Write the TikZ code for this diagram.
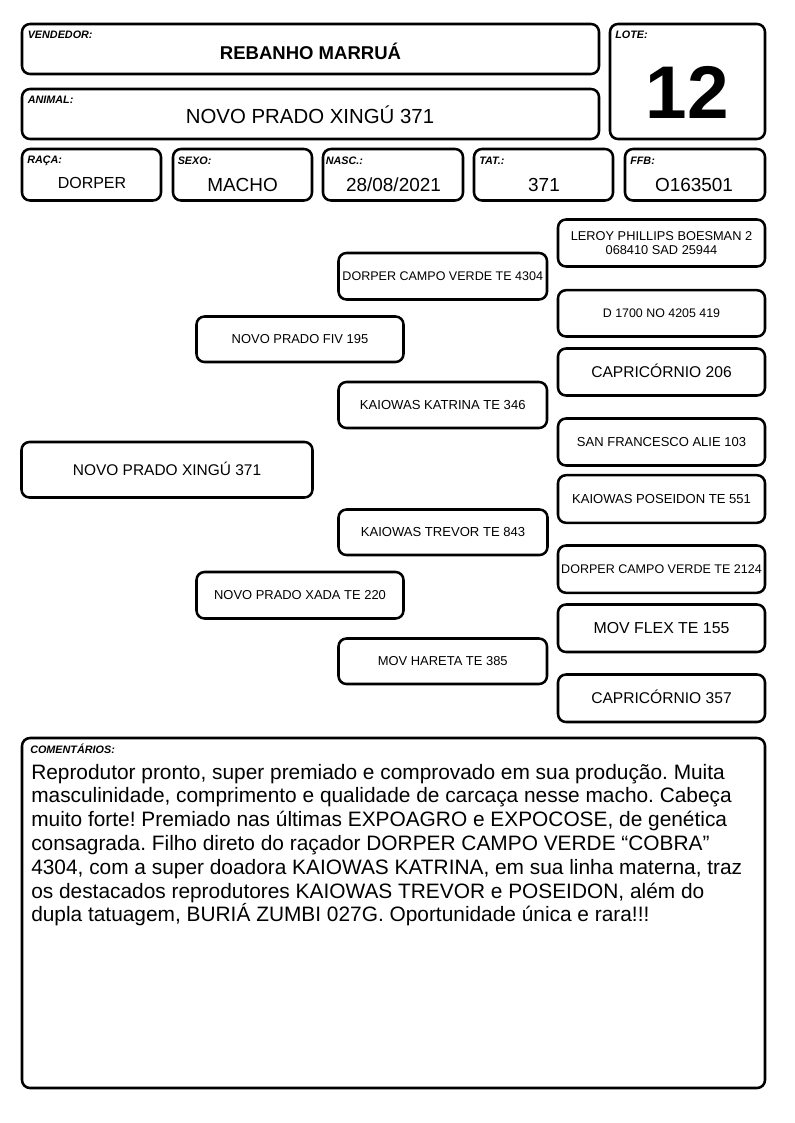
\documentclass[tikz,border=0pt]{standalone}
\usepackage{fontspec}
\setmainfont{Liberation Sans}
\frenchspacing
\tikzset{
    box/.style={draw,line width=1.9pt,rounded corners=6pt,inner sep=0pt},
    lbl/.style={anchor=base west,inner sep=0pt,font=\fontsize{8.1pt}{9pt}\selectfont\bfseries\itshape},
    val/.style={anchor=base,inner sep=0pt},
}
\begin{document}
\begin{tikzpicture}[x=0.75pt,y=-0.75pt]
    \useasboundingbox (0,0) rectangle (794,1123);
    \fill[white] (0,0) rectangle (794,1123);
    %% header boxes
    \foreach \xa/\ya/\xb/\yb/\name in {22/24/599/74/vend,22/89/599/139/anim,610/24/765/139/lote,
        22/149/161/200.5/raca,173/149/312/200.5/sexo,323/149/463/200.5/nasc,
        474/149/613/200.5/tat,625/149/765/200.5/ffb,22/738/765/1088/coment}
        \node[box,minimum width=(\xb-\xa)*0.75pt,minimum height=(\yb-\ya)*0.75pt]
            (\name) at ({(\xa+\xb)/2},{(\ya+\yb)/2}) {};
    %% labels
    \node[lbl] (vendl) at (27.5,39) {VENDEDOR:};
    \node[lbl] (animl) at (27.5,103.5) {ANIMAL:};
    \node[lbl] (lotel) at (615,39) {LOTE:};
    \node[lbl] (racal) at (27,164) {RAÇA:};
    \node[lbl] (sexol) at (177.5,165) {SEXO:};
    \node[lbl] (nascl) at (325.5,165) {NASC.:};
    \node[lbl] (tatl) at (479,165) {TAT.:};
    \node[lbl] (ffbl) at (630,165) {FFB:};
    \node[lbl] (comentl) at (30,753) {COMENTÁRIOS:};
    %% values
    \node[val,font=\fontsize{13.9pt}{16pt}\selectfont\bfseries] (vendv) at (310.5,60) {REBANHO MARRUÁ};
    \node[val,font=\fontsize{15.3pt}{17pt}\selectfont] (animv) at (310,123.3) {NOVO PRADO XINGÚ 371};
    \node[val,font=\fontsize{56pt}{60pt}\selectfont\bfseries] (lotev) at (687.5,119) {12};
    \node[val,font=\fontsize{12pt}{14pt}\selectfont] (racav) at (92,188.3) {DORPER};
    \node[val,font=\fontsize{14.2pt}{16pt}\selectfont] (sexov) at (242.5,191.7) {MACHO};
    \node[val,font=\fontsize{14.2pt}{16pt}\selectfont] (nascv) at (393.5,191.7) {28/08/2021};
    \node[val,font=\fontsize{14.2pt}{16pt}\selectfont] (tatv) at (544,191.7) {371};
    \node[val,font=\fontsize{14.2pt}{16pt}\selectfont] (ffbv) at (694,191.7) {O163501};
    %% pedigree
    \foreach \xa/\ya/\xb/\yb/\name/\fs/\txt in {
        21.5/442/312.5/497.5/ind/11.6/NOVO PRADO XINGÚ 371,
        196.5/316.5/403.5/362/pai/9.7/NOVO PRADO FIV 195,
        196.5/572/403.5/618.5/mae/9.7/NOVO PRADO XADA TE 220,
        338.5/253/547/299.5/avpp/9.4/DORPER CAMPO VERDE TE 4304,
        338.5/382/547/428/avmp/9.8/KAIOWAS KATRINA TE 346,
        338.5/509.5/547.5/555/avpm/9.8/KAIOWAS TREVOR TE 843,
        338.5/638.5/547/684/avmm/9.7/MOV HARETA TE 385,
        558/290.2/765/336.5/bpb/9.3/D 1700 NO 4205 419,
        558/348.5/765/395.5/bmp/11.7/CAPRICÓRNIO 206,
        558/418.5/765/465.5/bpm/9.75/SAN FRANCESCO ALIE 103,
        558/475.2/765/522.8/bpmb/9.8/KAIOWAS POSEIDON TE 551,
        558/545.5/765/592.8/bmpa/9.4/DORPER CAMPO VERDE TE 2124,
        558/604.5/765/652/bmpb/11.9/MOV FLEX TE 155,
        558/674.5/765/722/bmm/11.7/CAPRICÓRNIO 357}
        \node[box,minimum width=(\xb-\xa)*0.75pt,minimum height=(\yb-\ya)*0.75pt,
            font=\fontsize{\fs pt}{12pt}\selectfont,text height=0.716*\fs pt,text depth=0pt]
            (\name) at ({(\xa+\xb)/2},{(\ya+\yb)/2}) {\txt};
    \node[box,minimum width=155.25pt,minimum height=35.25pt,align=center,
        font=\fontsize{9.6pt}{11pt}\selectfont] (bpp) at (661.5,243) {LEROY PHILLIPS BOESMAN 2\\068410 SAD 25944};
    %% comments, one line each
    \foreach [count=\i from 0] \txt in {
        {Reprodutor pronto, super premiado e comprovado em sua produção. Muita},
        {masculinidade, comprimento e qualidade de carcaça nesse macho. Cabeça},
        {muito forte! Premiado nas últimas EXPOAGRO e EXPOCOSE, de genética},
        {consagrada. Filho direto do raçador DORPER CAMPO VERDE “COBRA”},
        {4304, com a super doadora KAIOWAS KATRINA, em sua linha materna, traz},
        {os destacados reprodutores KAIOWAS TREVOR e POSEIDON, além do},
        {dupla tatuagem, BURIÁ ZUMBI 027G. Oportunidade única e rara!!!}}
        \node[anchor=base west,inner sep=0pt,font=\fontsize{15.65pt}{17.85pt}\selectfont]
            (com\i) at (31,{779+23.8*\i}) {\txt};
\end{tikzpicture}
\end{document}
